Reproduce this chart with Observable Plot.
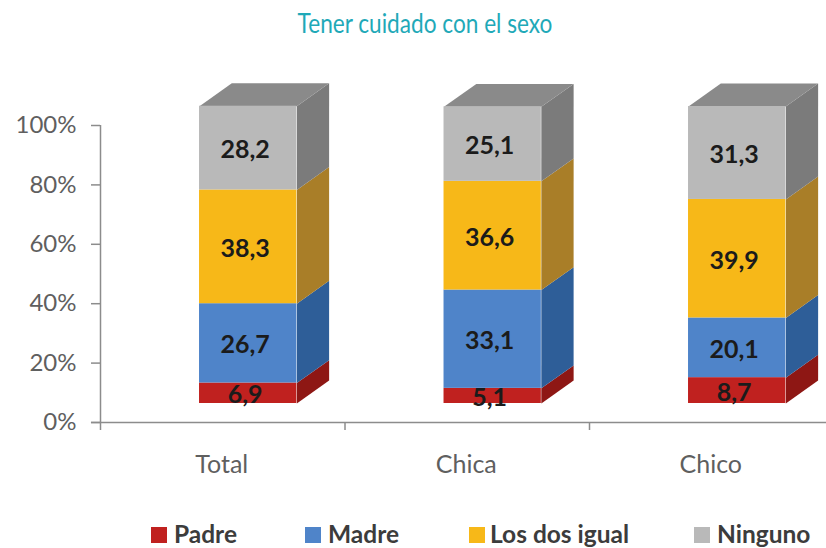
<!DOCTYPE html>
<html lang="es">
<head>
<meta charset="utf-8">
<script src="https://cdn.jsdelivr.net/npm/d3@7"></script>
<script src="https://cdn.jsdelivr.net/npm/@observablehq/plot@0.6"></script>
<style>
  html, body { margin: 0; padding: 0; background: #fff; }
  #page { position: relative; width: 826px; height: 548px; overflow: hidden; font-family: Lato, sans-serif; }
  #title { position: absolute; left: 12px; width: 826px; top: 7px; text-align: center; font: 400 26px/32px "Lato", sans-serif; color: #1fa9b8; transform: scaleX(0.87); transform-origin: 413px 0; }
  #chart { position: absolute; left: 0; top: 46px; }
  #legend { position: absolute; left: 0; top: 506px; width: 826px; height: 42px; }
  .item { position: absolute; top: 14px; height: 28px; white-space: nowrap; font: 700 24.5px/28px Lato, sans-serif; color: #3c3c3c; }
  .sw { position: absolute; top: 7px; width: 16px; height: 16px; }
</style>
</head>
<body>
<div id="page">
  <div id="title">Tener cuidado con el sexo</div>
  <div id="chart"></div>
  <div id="legend"></div>
</div>
<script>
const categories = ["Total", "Chica", "Chico"];
const seriesNames = ["Padre", "Madre", "Los dos igual", "Ninguno"];
const padre = [6.9, 5.1, 8.7];
const madre = [26.7, 33.1, 20.1];
const losDos = [38.3, 36.6, 39.9];
const ninguno = [28.2, 25.1, 31.3];
const seriesValues = [padre, madre, losDos, ninguno];
const yTicks = [0, 20, 40, 60, 80, 100];

const frontColors = ["#c0211f", "#4f84c9", "#f7b818", "#b9b9b9"];
const sideColors = ["#8e1714", "#2e5e98", "#a97e28", "#7b7b7b"];
const topColor = "#8a8a8a";

// geometry of the pseudo-3D bars, in scale units
const barStart = 0.405, barEnd = 0.803, depthX = 0.132, depthY = 7.7, lift = 6.4;

const fronts = [], polys = [], labels = [];
categories.forEach((cat, i) => {
  let base = lift;
  seriesValues.forEach((vals, s) => {
    const v = vals[i];
    const lo = base, hi = base + v;
    const r = i + barEnd, l = i + barStart;
    fronts.push({x1: l, x2: r, y1: lo, y2: hi, key: seriesNames[s]});
    labels.push({x: (l + r) / 2, y: (lo + hi) / 2, text: v.toFixed(1).replace(".", ",")});
    const id = cat + s;
    [[r, lo], [r + depthX, lo + depthY], [r + depthX, hi + depthY], [r, hi], [r, lo]]
      .forEach(([x, y]) => polys.push({x, y, id, key: seriesNames[s] + " lado"}));
    base = hi;
  });
  const r = i + barEnd, l = i + barStart;
  [[l, base], [r, base], [r + depthX, base + depthY], [l + depthX, base + depthY], [l, base]]
    .forEach(([x, y]) => polys.push({x, y, id: cat + "top", key: "tapa"}));
});

const axisColor = "#8c8c8c";
const chart = Plot.plot({
  width: 826,
  height: 460,
  marginLeft: 100, marginRight: 0, marginTop: 0, marginBottom: 0,
  style: {background: "transparent", overflow: "hidden"},
  x: {type: "linear", domain: [0, 3], range: [100, 833.5], axis: null},
  y: {type: "linear", domain: [0, 100], range: [376, 79], axis: null},
  color: {
    type: "ordinal",
    domain: [...seriesNames, ...seriesNames.map(n => n + " lado"), "tapa"],
    range: [...frontColors, ...sideColors, topColor]
  },
  marks: [
    Plot.ruleX([0], {y1: 0, y2: 100, stroke: axisColor, strokeWidth: 1.5}),
    Plot.ruleY([0], {x1: -0.037, x2: 3, stroke: axisColor, strokeWidth: 1.5}),
    Plot.axisY({
      ticks: yTicks, tickFormat: d => d + "%", anchor: "left", tickSize: 9, tickPadding: 15,
      stroke: axisColor, strokeWidth: 1.5, color: "#5f5f5f", fontSize: 24, fontFamily: "Lato, sans-serif", label: null
    }),
    Plot.ruleX([0, 1, 2], {x: d => d, y1: 0, y2: -2.7, stroke: axisColor, strokeWidth: 1.5}),
    Plot.text(categories, {x: (d, i) => i + 0.5, y: -14.3, dx: -1, text: d => d, fontSize: 25, fontFamily: "Lato, sans-serif", fill: "#5f5f5f"}),
    Plot.line(polys, {x: "x", y: "y", z: "id", fill: "key", stroke: "none", curve: "linear"}),
    Plot.rect(fronts, {x1: "x1", x2: "x2", y1: "y1", y2: "y2", fill: "key", inset: 0}),
    Plot.text(labels, {x: "x", y: "y", dx: -3, dy: 2, text: "text", fontSize: 25, fontWeight: 700, fontFamily: "Lato, sans-serif", fill: "#1b1b1b"})
  ]
});
document.getElementById("chart").appendChild(chart);

const legendPos = [[151, 174], [305, 328], [469, 490], [694, 717]];
const legendSw = ["#c0211f", "#4f84c9", "#f7b818", "#b9b9b9"];
const legend = document.getElementById("legend");
seriesNames.forEach((name, i) => {
  const [sx, tx] = legendPos[i];
  const sw = document.createElement("div");
  sw.className = "item";
  sw.style.left = sx + "px";
  sw.innerHTML = `<span class="sw" style="background:${legendSw[i]}"></span>`;
  legend.appendChild(sw);
  const t = document.createElement("div");
  t.className = "item";
  t.style.left = tx + "px";
  t.textContent = name;
  legend.appendChild(t);
});
</script>
</body>
</html>
